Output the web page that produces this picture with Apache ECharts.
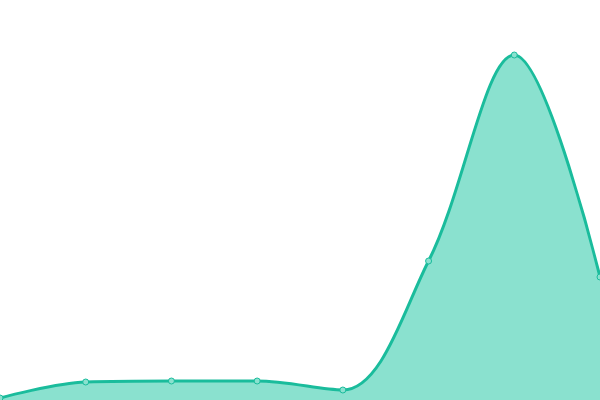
<!DOCTYPE html>
<html>
<head>
<meta charset="utf-8">
<script src="https://cdn.jsdelivr.net/npm/echarts@6/dist/echarts.min.js"></script>
<style>
  html, body { margin: 0; padding: 0; background: #fff; }
  #chart { width: 600px; height: 400px; }
</style>
</head>
<body>
<div id="chart"></div>
<script>
// 8 points, no axes shown
var categories = ['1', '2', '3', '4', '5', '6', '7', '8'];
var values = [2, 18, 19, 19, 10, 139, 345, 123];

var chart = echarts.init(document.getElementById('chart'));
chart.setOption({
    animation: false,
    grid: { left: 0, right: 0, top: 0, bottom: 0 },
    xAxis: {
        type: 'category',
        data: categories,
        boundaryGap: false,
        show: false
    },
    yAxis: {
        type: 'value',
        min: 0,
        max: 400,
        show: false
    },
    series: [{
        type: 'line',
        data: values,
        smooth: 0.35,
        symbol: 'circle',
        symbolSize: 6,
        showSymbol: true,
        lineStyle: { color: '#1abc9c', width: 3 },
        itemStyle: { color: '#8ae1cf', borderColor: '#1abc9c', borderWidth: 1 },
        areaStyle: { color: '#8ae1cf', opacity: 1 }
    }]
});
</script>
</body>
</html>
